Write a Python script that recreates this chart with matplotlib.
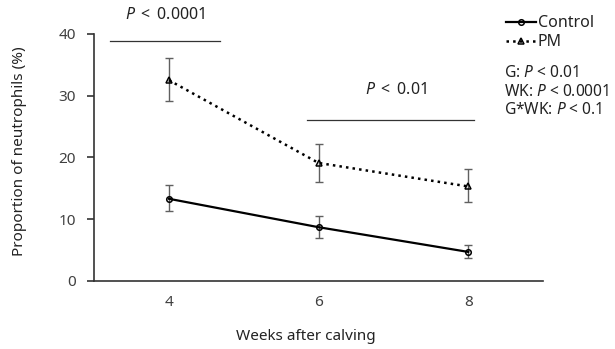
import matplotlib
matplotlib.use("Agg")
import matplotlib.pyplot as plt

plt.rcParams['font.family'] = ['Noto Sans', 'DejaVu Sans']
plt.rcParams['mathtext.fontset'] = 'custom'
plt.rcParams['mathtext.it'] = 'Noto Sans:italic'
plt.rcParams['mathtext.rm'] = 'Noto Sans'

weeks = [4, 6, 8]
control = [13.3, 8.7, 4.7]
control_lo = [11.3, 7.0, 3.7]
control_hi = [15.5, 10.5, 5.8]
pm = [32.5, 19.1, 15.3]
pm_lo = [29.2, 16.0, 12.7]
pm_hi = [36.1, 22.2, 18.2]
yticks = [0, 10, 20, 30, 40]

txt = '#404040'
fig = plt.figure(figsize=(6.15, 3.49), dpi=100)
ax = fig.add_axes([0.153, 0.195, 0.730, 0.708])

ce = [[c - l for c, l in zip(control, control_lo)], [h - c for c, h in zip(control, control_hi)]]
pe = [[c - l for c, l in zip(pm, pm_lo)], [h - c for c, h in zip(pm, pm_hi)]]
ax.errorbar(weeks, control, yerr=ce, fmt='none', ecolor='#606060', elinewidth=1, capsize=3, capthick=1)
ax.errorbar(weeks, pm, yerr=pe, fmt='none', ecolor='#606060', elinewidth=1, capsize=3, capthick=1)
l1, = ax.plot(weeks, control, '-', color='black', lw=1.6, marker='o', ms=4,
              mfc='none', mec='black', mew=1.1, label='Control')
l2, = ax.plot(weeks, pm, ':', color='black', lw=1.8, marker='^', ms=4,
              mfc='none', mec='black', mew=1.1, label='PM')

ax.set_xlim(3, 9)
ax.set_ylim(0, 40)
ax.set_xticks(weeks)
ax.set_yticks(yticks)
ax.spines['top'].set_visible(False)
ax.spines['right'].set_visible(False)
for s in ['left', 'bottom']:
    ax.spines[s].set_color('#333333')
    ax.spines[s].set_linewidth(1.2)
ax.tick_params(axis='x', length=0, pad=10, labelsize=11, labelcolor=txt)
ax.tick_params(axis='y', length=5, width=1.2, color='#333333', pad=8, labelsize=11, labelcolor=txt)
ax.set_xlabel('Weeks after calving', fontsize=11, color='#222222')
ax.set_ylabel('Proportion of neutrophils (%)', fontsize=11, color='#222222')
ax.xaxis.set_label_coords(0.472, -0.195)
ax.yaxis.set_label_coords(-0.15, 0.526)

fs = 11.5
lt = ' \u2009<\u2009 '
# significance bars
ax.plot([3.21, 4.68], [38.9, 38.9], color='#333333', lw=0.9, clip_on=False)
ax.text(3.95, 43.0, r'$\it{P}$' + lt + '0.0001', ha='center', va='center', fontsize=fs, color='#222222')
ax.plot([5.85, 8.08], [26.1, 26.1], color='#333333', lw=0.9, clip_on=False)
ax.text(7.03, 30.9, r'$\it{P}$' + lt + '0.01', ha='center', va='center', fontsize=fs, color='#222222')

fig.legend(handles=[l1, l2], loc='upper left', bbox_to_anchor=(0.812, 0.975), frameon=False,
           fontsize=fs, handlelength=1.9, handletextpad=0.1, labelspacing=0.2,
           borderaxespad=0, labelcolor='#222222')

fs2 = 11.2
fig.text(0.819, 0.79, 'G: ' + r'$\it{P}$' + ' < 0.01', fontsize=fs2, color='#222222', va='center')
fig.text(0.819, 0.737, 'WK: ' + r'$\it{P}$' + ' < 0.0001', fontsize=fs2, color='#222222', va='center')
fig.text(0.819, 0.684, 'G*WK: ' + r'$\it{P}$' + ' < 0.1', fontsize=fs2, color='#222222', va='center')

fig.savefig('out.png', dpi=100)
